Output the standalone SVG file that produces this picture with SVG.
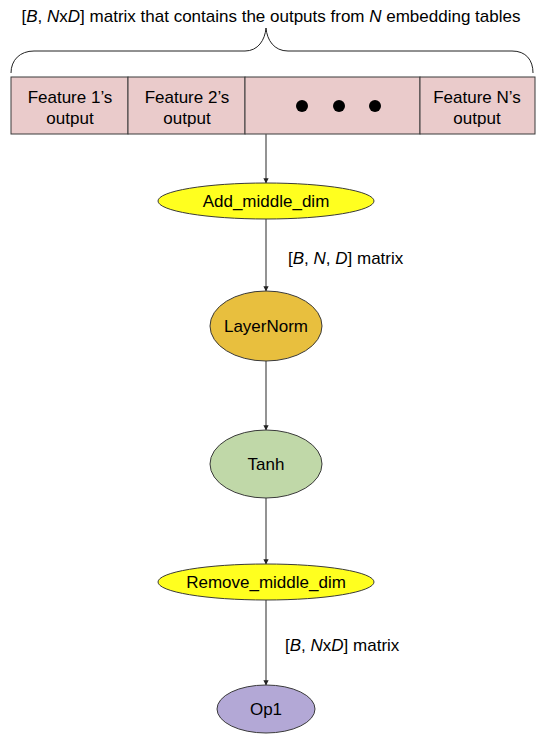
<svg xmlns="http://www.w3.org/2000/svg" width="544" height="739" viewBox="0 0 544 739">
<style>
text{font-family:"Liberation Sans",Arial,sans-serif;font-size:17px;fill:#000}
.c{text-anchor:middle}
.box{fill:#eacbcb;stroke:#3a3a3a;stroke-width:1}
.node{stroke:#3a3a3a;stroke-width:1}
.edge{stroke:#595959;stroke-width:1.3;fill:none;marker-end:url(#ah)}
</style>
<defs>
<marker id="ah" viewBox="0 0 10 10" refX="9" refY="5" markerWidth="4" markerHeight="4" orient="auto"><path d="M0,0 L10,5 L0,10 z" fill="#222"/></marker>
</defs>
<rect width="544" height="739" fill="#fff"/>
<g id="title">
<text x="271" y="22" class="c">[<tspan font-style="italic">B</tspan>, <tspan font-style="italic">N</tspan>x<tspan font-style="italic">D</tspan>] matrix that contains the outputs from <tspan font-style="italic">N</tspan> embedding tables</text>
<path d="M11,73 C11,60 20,51 34,51 L245,51 C258,51 265,40 266,28 C267,40 274,51 288,51 L512,51 C526,51 533,60 533,73" fill="none" stroke="#222" stroke-width="1"/>
</g>
<g id="matrix">
<rect class="box" x="11" y="77" width="117" height="57"/>
<rect class="box" x="128" y="77" width="117" height="57"/>
<rect class="box" x="245" y="77" width="175" height="57"/>
<rect class="box" x="420" y="77" width="115" height="57"/>
<text x="70" y="103" class="c">Feature 1’s</text>
<text x="70" y="124" class="c">output</text>
<text x="187" y="103" class="c">Feature 2’s</text>
<text x="187" y="124" class="c">output</text>
<circle cx="302" cy="106" r="6" fill="#000"/>
<circle cx="339" cy="106" r="6" fill="#000"/>
<circle cx="375" cy="106" r="6" fill="#000"/>
<text x="477" y="103" class="c">Feature N’s</text>
<text x="477" y="124" class="c">output</text>
</g>
<g id="connectors">
<line class="edge" x1="266" y1="134" x2="266" y2="183"/>
<line class="edge" x1="266" y1="219" x2="266" y2="291"/>
<line class="edge" x1="266" y1="361" x2="266" y2="430"/>
<line class="edge" x1="266" y1="498" x2="266" y2="564"/>
<line class="edge" x1="266" y1="600" x2="266" y2="685"/>
<text x="288" y="264">[<tspan font-style="italic">B</tspan>, <tspan font-style="italic">N</tspan>, <tspan font-style="italic">D</tspan>] matrix</text>
<text x="285" y="651">[<tspan font-style="italic">B</tspan>, <tspan font-style="italic">N</tspan>x<tspan font-style="italic">D</tspan>] matrix</text>
</g>
<g id="add_middle_dim">
<ellipse class="node" cx="266" cy="201" rx="108" ry="18" fill="#ffff1f"/>
<text x="266" y="207" class="c">Add_middle_dim</text>
</g>
<g id="layernorm">
<ellipse class="node" cx="266" cy="326" rx="56" ry="35" fill="#e8bf3e"/>
<text x="266" y="332" class="c">LayerNorm</text>
</g>
<g id="tanh">
<ellipse class="node" cx="266" cy="464" rx="56" ry="34" fill="#c0d8a8"/>
<text x="266" y="470" class="c">Tanh</text>
</g>
<g id="remove_middle_dim">
<ellipse class="node" cx="266" cy="582" rx="108" ry="18" fill="#ffff1f"/>
<text x="266" y="588" class="c">Remove_middle_dim</text>
</g>
<g id="op1">
<ellipse class="node" cx="266" cy="709" rx="49" ry="24" fill="#b3a8d6"/>
<text x="266" y="715" class="c">Op1</text>
</g>
</svg>
